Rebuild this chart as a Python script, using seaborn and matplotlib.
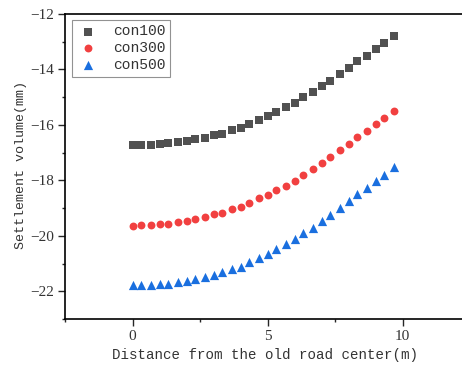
import numpy as np
import pandas as pd
import matplotlib
matplotlib.use("Agg")
import matplotlib.pyplot as plt
import seaborn as sns
from matplotlib.ticker import MultipleLocator

# Distance from the old road centre (m)
distance = [0.00, 0.33, 0.67, 1.00, 1.33, 1.67, 2.00, 2.33, 2.67, 3.00,
            3.33, 3.67, 4.00, 4.33, 4.67, 5.00, 5.33, 5.67, 6.00, 6.33,
            6.67, 7.00, 7.33, 7.67, 8.00, 8.33, 8.67, 9.00, 9.33, 9.67]

# Settlement (mm) for each condition
con100 = [-16.73, -16.71, -16.72, -16.69, -16.67, -16.61, -16.59, -16.52, -16.47, -16.37,
          -16.31, -16.19, -16.10, -15.96, -15.83, -15.69, -15.55, -15.37, -15.21, -15.01,
          -14.83, -14.60, -14.40, -14.16, -13.96, -13.71, -13.51, -13.25, -13.06, -12.81]
con300 = [-19.63, -19.60, -19.60, -19.58, -19.56, -19.51, -19.46, -19.40, -19.33, -19.23,
          -19.17, -19.05, -18.95, -18.81, -18.65, -18.53, -18.36, -18.20, -18.02, -17.81,
          -17.60, -17.37, -17.17, -16.90, -16.70, -16.43, -16.23, -15.96, -15.76, -15.49]
con500 = [-21.79, -21.78, -21.78, -21.75, -21.72, -21.66, -21.64, -21.57, -21.49, -21.41,
          -21.32, -21.20, -21.11, -20.95, -20.81, -20.65, -20.49, -20.30, -20.12, -19.91,
          -19.71, -19.46, -19.24, -18.98, -18.76, -18.49, -18.29, -18.01, -17.79, -17.53]

series_names = ["con100", "con300", "con500"]
colors = ["#515151", "#F14040", "#1A6FDF"]
markers = ["s", "o", "^"]

df = pd.concat([
    pd.DataFrame({"distance": distance, "settlement": vals, "case": name})
    for name, vals in zip(series_names, [con100, con300, con500])
], ignore_index=True)

sns.set_style("ticks")
label_font = "Liberation Mono"
tick_font = "Liberation Serif"

fig = plt.figure(figsize=(4.62, 3.65), dpi=100)
ax = fig.add_axes([65 / 462, 46 / 365, 405 / 462, 305 / 365])

sizes = {"con100": 27, "con300": 32, "con500": 44}
for name, col, mk in zip(series_names, colors, markers):
    sub = df[df["case"] == name]
    sns.scatterplot(data=sub, x="distance", y="settlement", ax=ax,
                    color=col, marker=mk, s=sizes[name], linewidth=0,
                    label=name, zorder=3)

ax.set_xlim(-2.5, 12.5)
ax.set_ylim(-23, -12)
ax.xaxis.set_major_locator(MultipleLocator(5))
ax.xaxis.set_minor_locator(MultipleLocator(2.5))
ax.yaxis.set_major_locator(MultipleLocator(2))
ax.yaxis.set_minor_locator(MultipleLocator(1))

for side in ["left", "bottom", "top", "right"]:
    ax.spines[side].set_linewidth(1.2)
    ax.spines[side].set_color("black")

ax.tick_params(which="major", direction="out", length=4.8, width=1.0,
               top=False, right=False, pad=3)
ax.tick_params(which="minor", direction="out", length=2.4, width=1.0,
               top=False, right=False)
for lbl in ax.get_xticklabels() + ax.get_yticklabels():
    lbl.set_fontfamily(tick_font)
    lbl.set_fontsize(11)
    lbl.set_color("#333333")

ax.set_xlabel("Distance from the old road center(m)", fontfamily=label_font,
              fontsize=10.2, color="#333333")
ax.set_ylabel("Settlement volume(mm)", fontfamily=label_font,
              fontsize=9.6, color="#333333")
ax.xaxis.set_label_coords((265 - 65) / 405, -(348 - 319) / 305)
ax.yaxis.set_label_coords(-(65 - 27) / 405, (319 - 165) / 305)

leg = ax.legend(loc="upper left", bbox_to_anchor=(7 / 405, 1 - 6 / 305),
                frameon=True, fancybox=False, borderpad=0.3, handletextpad=0.9,
                labelspacing=0.2, borderaxespad=0, handlelength=1.6,
                prop={"family": label_font, "size": 10.5})
leg.get_frame().set_edgecolor("#777777")
leg.get_frame().set_linewidth(0.8)
for t in leg.get_texts():
    t.set_color("#333333")

fig.savefig("out.png", dpi=100)
